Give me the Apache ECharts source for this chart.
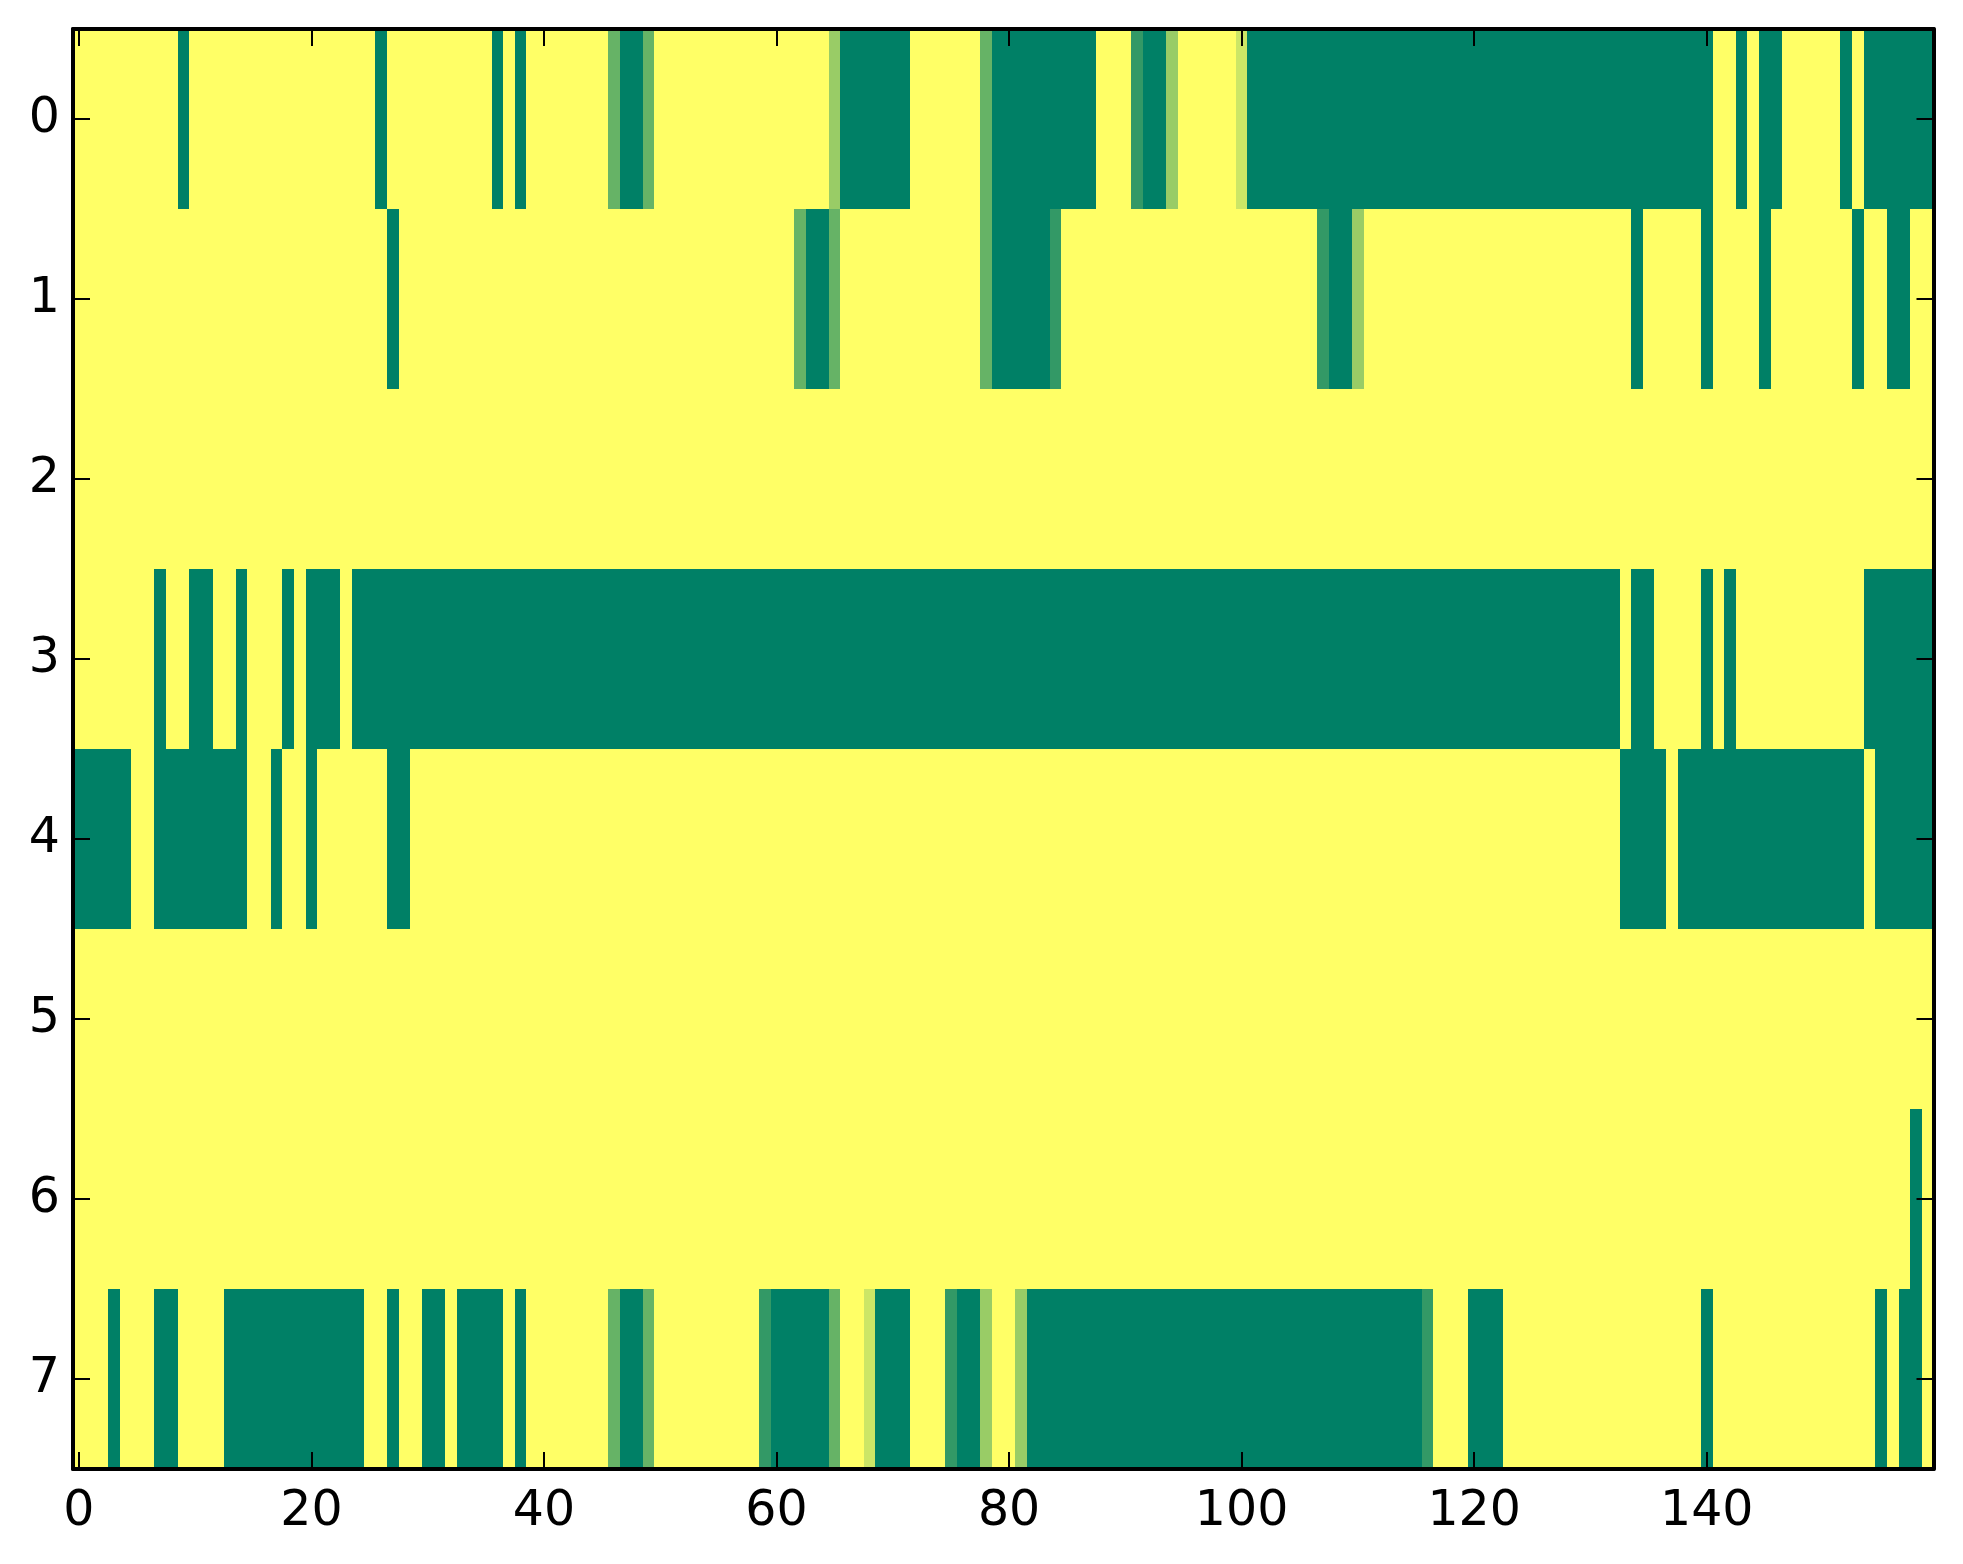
<!DOCTYPE html>
<html>
<head>
<meta charset="utf-8">
<style>html,body{margin:0;padding:0;background:#fff}#c{width:1963px;height:1564px}</style>
<script src="https://cdn.jsdelivr.net/npm/echarts@6/dist/echarts.min.js"></script>
</head>
<body>
<div id="c"></div>
<script>
const row0 = [
0,0,0,0,0,0,0,0,0,1, 0,0,0,0,0,0,0,0,0,0,
0,0,0,0,0,0,1,0,0,0, 0,0,0,0,0,0,1,0,1,0,
0,0,0,0,0,0,.6,1,1,.6, 0,0,0,0,0,0,0,0,0,0,
0,0,0,0,0,.4,1,1,1,1, 1,1,0,0,0,0,0,0,.6,1,
1,1,1,1,1,1,1,1,0,0, 0,.8,1,1,.4,0,0,0,0,0,
.2,1,1,1,1,1,1,1,1,1, 1,1,1,1,1,1,1,1,1,1,
1,1,1,1,1,1,1,1,1,1, 1,1,1,1,1,1,1,1,1,1,
1,0,0,1,0,1,1,0,0,0, 0,0,1,0,1,1,1,1,1,1];
const row1 = [
0,0,0,0,0,0,0,0,0,0, 0,0,0,0,0,0,0,0,0,0,
0,0,0,0,0,0,0,1,0,0, 0,0,0,0,0,0,0,0,0,0,
0,0,0,0,0,0,0,0,0,0, 0,0,0,0,0,0,0,0,0,0,
0,0,.6,1,1,.6,0,0,0,0, 0,0,0,0,0,0,0,0,.6,1,
1,1,1,1,.8,0,0,0,0,0, 0,0,0,0,0,0,0,0,0,0,
0,0,0,0,0,0,0,.8,1,1, .4,0,0,0,0,0,0,0,0,0,
0,0,0,0,0,0,0,0,0,0, 0,0,0,0,1,0,0,0,0,0,
1,0,0,0,0,1,0,0,0,0, 0,0,0,1,0,0,1,1,0,0];
const row2 = [
0,0,0,0,0,0,0,0,0,0, 0,0,0,0,0,0,0,0,0,0,
0,0,0,0,0,0,0,0,0,0, 0,0,0,0,0,0,0,0,0,0,
0,0,0,0,0,0,0,0,0,0, 0,0,0,0,0,0,0,0,0,0,
0,0,0,0,0,0,0,0,0,0, 0,0,0,0,0,0,0,0,0,0,
0,0,0,0,0,0,0,0,0,0, 0,0,0,0,0,0,0,0,0,0,
0,0,0,0,0,0,0,0,0,0, 0,0,0,0,0,0,0,0,0,0,
0,0,0,0,0,0,0,0,0,0, 0,0,0,0,0,0,0,0,0,0,
0,0,0,0,0,0,0,0,0,0, 0,0,0,0,0,0,0,0,0,0];
const row3 = [
0,0,0,0,0,0,0,1,0,0, 1,1,0,0,1,0,0,0,1,0,
1,1,1,0,1,1,1,1,1,1, 1,1,1,1,1,1,1,1,1,1,
1,1,1,1,1,1,1,1,1,1, 1,1,1,1,1,1,1,1,1,1,
1,1,1,1,1,1,1,1,1,1, 1,1,1,1,1,1,1,1,1,1,
1,1,1,1,1,1,1,1,1,1, 1,1,1,1,1,1,1,1,1,1,
1,1,1,1,1,1,1,1,1,1, 1,1,1,1,1,1,1,1,1,1,
1,1,1,1,1,1,1,1,1,1, 1,1,1,0,1,1,0,0,0,0,
1,0,1,0,0,0,0,0,0,0, 0,0,0,0,1,1,1,1,1,1];
const row4 = [
1,1,1,1,1,0,0,1,1,1, 1,1,1,1,1,0,0,1,0,0,
1,0,0,0,0,0,0,1,1,0, 0,0,0,0,0,0,0,0,0,0,
0,0,0,0,0,0,0,0,0,0, 0,0,0,0,0,0,0,0,0,0,
0,0,0,0,0,0,0,0,0,0, 0,0,0,0,0,0,0,0,0,0,
0,0,0,0,0,0,0,0,0,0, 0,0,0,0,0,0,0,0,0,0,
0,0,0,0,0,0,0,0,0,0, 0,0,0,0,0,0,0,0,0,0,
0,0,0,0,0,0,0,0,0,0, 0,0,0,1,1,1,1,0,1,1,
1,1,1,1,1,1,1,1,1,1, 1,1,1,1,0,1,1,1,1,1];
const row5 = [
0,0,0,0,0,0,0,0,0,0, 0,0,0,0,0,0,0,0,0,0,
0,0,0,0,0,0,0,0,0,0, 0,0,0,0,0,0,0,0,0,0,
0,0,0,0,0,0,0,0,0,0, 0,0,0,0,0,0,0,0,0,0,
0,0,0,0,0,0,0,0,0,0, 0,0,0,0,0,0,0,0,0,0,
0,0,0,0,0,0,0,0,0,0, 0,0,0,0,0,0,0,0,0,0,
0,0,0,0,0,0,0,0,0,0, 0,0,0,0,0,0,0,0,0,0,
0,0,0,0,0,0,0,0,0,0, 0,0,0,0,0,0,0,0,0,0,
0,0,0,0,0,0,0,0,0,0, 0,0,0,0,0,0,0,0,0,0];
const row6 = [
0,0,0,0,0,0,0,0,0,0, 0,0,0,0,0,0,0,0,0,0,
0,0,0,0,0,0,0,0,0,0, 0,0,0,0,0,0,0,0,0,0,
0,0,0,0,0,0,0,0,0,0, 0,0,0,0,0,0,0,0,0,0,
0,0,0,0,0,0,0,0,0,0, 0,0,0,0,0,0,0,0,0,0,
0,0,0,0,0,0,0,0,0,0, 0,0,0,0,0,0,0,0,0,0,
0,0,0,0,0,0,0,0,0,0, 0,0,0,0,0,0,0,0,0,0,
0,0,0,0,0,0,0,0,0,0, 0,0,0,0,0,0,0,0,0,0,
0,0,0,0,0,0,0,0,0,0, 0,0,0,0,0,0,0,0,1,0];
const row7 = [
0,0,0,1,0,0,0,1,1,0, 0,0,0,1,1,1,1,1,1,1,
1,1,1,1,1,0,0,1,0,0, 1,1,0,1,1,1,1,0,1,0,
0,0,0,0,0,0,.6,1,1,.6, 0,0,0,0,0,0,0,0,0,.8,
1,1,1,1,1,.6,0,0,.2,1, 1,1,0,0,0,.8,1,1,.4,0,
0,.4,1,1,1,1,1,1,1,1, 1,1,1,1,1,1,1,1,1,1,
1,1,1,1,1,1,1,1,1,1, 1,1,1,1,1,1,.8,0,0,0,
1,1,1,0,0,0,0,0,0,0, 0,0,0,0,0,0,0,0,0,0,
1,0,0,0,0,0,0,0,0,0, 0,0,0,0,0,1,0,1,1,0];
const rows = [row0, row1, row2, row3, row4, row5, row6, row7];
const xCategories = row0.map((_, i) => String(i));
const yCategories = ['0','1','2','3','4','5','6','7'];
const colorLow = '#ffff66';
const colorHigh = '#008066';

const cells = [];
rows.forEach((r, y) => r.forEach((v, x) => cells.push([x, y, v])));

const font = { fontFamily: 'DejaVu Sans', fontSize: 49, color: '#000' };
const spine = { show: true, onZero: false, lineStyle: { color: '#000', width: 4 } };
const every20 = i => i % 20 === 0;
const xTick = { show: true, inside: true, length: 17, alignWithLabel: true, interval: every20, lineStyle: { color: '#000', width: 2 } };
const yTick = { show: true, inside: true, length: 17, alignWithLabel: true, interval: 0, lineStyle: { color: '#000', width: 2 } };

// Cells are placed through the axes; edges are snapped to whole pixels so neighbours leave no seam.
function renderCell(params, api) {
  const c = api.coord([api.value(0), api.value(1)]);
  const s = api.size([1, 1]);
  const x0 = Math.round(c[0] - s[0] / 2), x1 = Math.round(c[0] + s[0] / 2);
  const y0 = Math.round(c[1] - s[1] / 2), y1 = Math.round(c[1] + s[1] / 2);
  return { type: 'rect', shape: { x: x0, y: y0, width: x1 - x0, height: y1 - y0 }, style: { fill: api.visual('color') } };
}

const chart = echarts.init(document.getElementById('c'), null, { renderer: 'canvas' });
chart.setOption({
  animation: false,
  backgroundColor: '#fff',
  grid: { left: 73, top: 29, width: 1860.5, height: 1440, containLabel: false },
  xAxis: [
    { type: 'category', data: xCategories, position: 'bottom', z: 10, axisLine: spine, axisTick: xTick, splitLine: { show: false },
      axisLabel: Object.assign({ interval: every20, margin: 19, showMinLabel: true, hideOverlap: false }, font) },
    { type: 'category', data: xCategories, position: 'top', z: 10, axisLine: spine, axisTick: xTick, splitLine: { show: false }, axisLabel: { show: false } }
  ],
  yAxis: [
    { type: 'category', data: yCategories, inverse: true, position: 'left', z: 10, axisLine: spine, axisTick: yTick, splitLine: { show: false },
      axisLabel: Object.assign({ interval: 0, margin: 13, padding: [5, 0, 0, 0] }, font) },
    { type: 'category', data: yCategories, inverse: true, position: 'right', z: 10, axisLine: spine, axisTick: yTick, splitLine: { show: false }, axisLabel: { show: false } }
  ],
  visualMap: { show: false, type: 'continuous', min: 0, max: 1, dimension: 2, seriesIndex: 0, inRange: { color: [colorLow, colorHigh] } },
  series: [{ type: 'custom', renderItem: renderCell, data: cells, encode: { x: 0, y: 1 }, xAxisIndex: 0, yAxisIndex: 0, z: 1, clip: true, silent: true, progressive: 0 }]
});
</script>
</body>
</html>
